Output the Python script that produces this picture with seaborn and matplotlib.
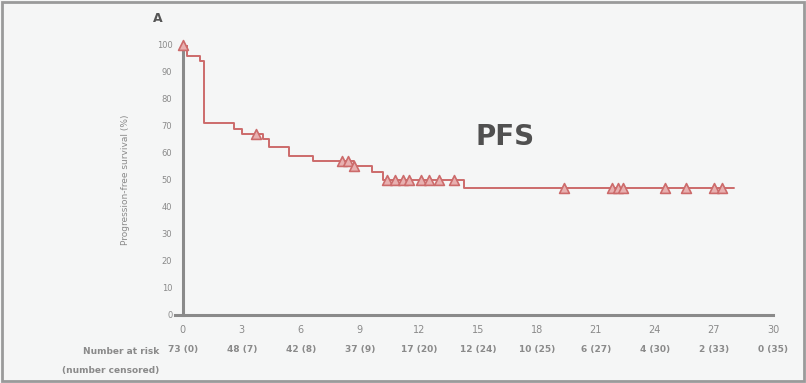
import matplotlib
matplotlib.use("Agg")
import matplotlib.pyplot as plt
import seaborn as sns
import pandas as pd
from matplotlib.patches import Rectangle

# Kaplan-Meier step data (months, survival %)
step_time = [0, 0.2, 0.9, 1.1, 2.6, 3.0, 4.1, 4.4, 5.4, 6.6, 8.7, 9.6, 10.2, 14.3, 28.0]
step_surv = [100, 96, 94, 71, 69, 67, 65, 62, 59, 57, 55, 53, 50, 47, 47]

# Censored observations
cens_time = [0.0, 3.7, 8.1, 8.4, 8.7, 10.4, 10.8, 11.2, 11.5, 12.1, 12.5, 13.0, 13.8,
             19.4, 21.8, 22.1, 22.4, 24.5, 25.6, 27.0, 27.4]
cens_surv = [100, 67, 57, 57, 55, 50, 50, 50, 50, 50, 50, 50, 50,
             47, 47, 47, 47, 47, 47, 47, 47]

x_ticks = [0, 3, 6, 9, 12, 15, 18, 21, 24, 27, 30]
y_ticks = [0, 10, 20, 30, 40, 50, 60, 70, 80, 90, 100]
at_risk = ["73 (0)", "48 (7)", "42 (8)", "37 (9)", "17 (20)", "12 (24)",
           "10 (25)", "6 (27)", "4 (30)", "2 (33)", "0 (35)"]

sns.set_theme(style="white")
plt.rcParams['font.family'] = ['DejaVu Sans']

bg = "#f5f6f6"
fig = plt.figure(figsize=(8.06, 3.83), dpi=100, facecolor=bg)
ax = fig.add_axes([0.217, 0.178, 0.742, 0.705])
ax.set_facecolor(bg)

line_col = "#cc6b6b"
gray = "#8a8a8a"

steps = pd.DataFrame({"t": step_time, "s": step_surv})
sns.lineplot(data=steps, x="t", y="s", drawstyle="steps-post", color=line_col,
             lw=1.4, ax=ax)
cens = pd.DataFrame({"t": cens_time, "s": cens_surv})
sns.scatterplot(data=cens, x="t", y="s", marker="^", s=50, facecolor="#e8b0b0",
                edgecolor=line_col, linewidth=1.2, ax=ax, clip_on=False, zorder=5)

ax.set_xlim(-0.4, 30)
ax.set_ylim(0, 100)
ax.spines["left"].set_position(("data", 0))
ax.set_xticks(x_ticks)
ax.set_xticklabels([str(v) for v in x_ticks], fontsize=7, color=gray)
ax.set_yticks(y_ticks)
ax.set_yticklabels([str(v) for v in y_ticks], fontsize=6, color=gray)
ax.tick_params(axis="both", length=4, width=1.2, color=gray, direction="out")
for side in ["top", "right"]:
    ax.spines[side].set_visible(False)
for side in ["left", "bottom"]:
    ax.spines[side].set_color(gray)
    ax.spines[side].set_linewidth(2.2)
ax.set_xlabel("")
ax.set_ylabel("Progression-free survival (%)", fontsize=6.5, color=gray, labelpad=8)
ax.yaxis.set_label_coords(-0.075, 0.5)

# Number at risk row
for xt, lab in zip(x_ticks, at_risk):
    ax.text(xt, -13, lab, ha="center", va="center", fontsize=6.5, color=gray,
            fontweight="bold", transform=ax.transData, clip_on=False)
fig.text(0.197, 1 - 352 / 383, "Number at risk", ha="right", va="center",
         fontsize=6.5, color=gray, fontweight="bold")
fig.text(0.197, 1 - 370 / 383, "(number censored)", ha="right", va="center",
         fontsize=6.5, color=gray, fontweight="bold")

fig.text(153 / 806, 1 - 18 / 383, "A", ha="left", va="center", fontsize=9,
         color="#555555", fontweight="bold")
fig.text(505 / 806, 1 - 137 / 383, "PFS", ha="center", va="center", fontsize=20,
         color="#505050", fontweight="bold")

fig.patches.append(Rectangle((0.002, 0.005), 0.996, 0.99, transform=fig.transFigure,
                             fill=False, edgecolor="#9a9a9a", lw=2))

fig.savefig("out.png", dpi=100, facecolor=fig.get_facecolor())
